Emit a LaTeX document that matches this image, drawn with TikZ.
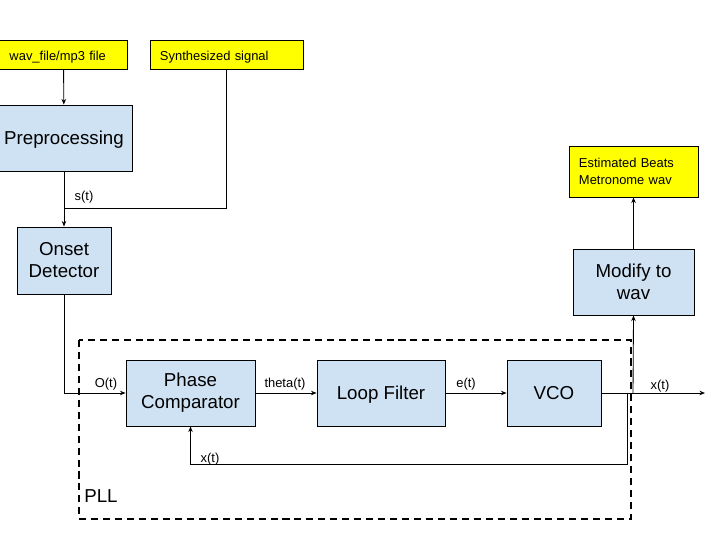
\documentclass[tikz,border=0pt]{standalone}
\usepackage{fontspec}
\setmainfont{Liberation Sans}
\usepackage{xcolor}
\usetikzlibrary{arrows.meta}
\definecolor{blkblue}{HTML}{CFE2F3}
\definecolor{iobox}{HTML}{FFFF00}
\begin{document}
\begin{tikzpicture}[x=0.025cm,y=-0.025cm,line width=0.6pt,
		>={Stealth[length=4pt,width=3.2pt]},
		blk/.style={draw,fill=blkblue,align=center,font=\fontsize{13.3}{15.6}\selectfont,minimum height=1.65cm},
		io/.style={draw,fill=iobox,align=left,font=\fontsize{9.2}{12}\selectfont,inner xsep=0.25cm},
		lbl/.style={font=\fontsize{9.2}{11}\selectfont,inner sep=1pt},
		pll/.style={line width=1.3pt,dash pattern=on 5pt off 3.5pt}]
			\useasboundingbox (0,0) rectangle (720,540);
			\node[io,text width=2.7cm,minimum height=0.725cm,text height=1.9ex,text depth=0.2ex] (wav) at (63.5,54.5) {wav\_file/mp3 file};
			\node[io,text width=3.325cm,minimum height=0.725cm,text height=1.9ex,text depth=0.2ex] (syn) at (226.5,54.5) {Synthesized signal};
			\node[blk,minimum width=3.4cm,text height=2ex,text depth=0.2ex] (pre) at (64,138) {Preprocessing};
			\node[blk,minimum width=2.35cm,minimum height=1.675cm] (ons) at (64,260.5) {Onset\\Detector};
			\node[blk,minimum width=3.225cm] (pc) at (190.5,393) {Phase\\Comparator};
			\node[blk,minimum width=3.2cm,text height=2ex,text depth=0.2ex] (lf) at (381,393) {Loop Filter};
			\node[blk,minimum width=2.35cm,text height=2ex,text depth=0.2ex] (vco) at (554,393) {VCO};
			\node[blk,minimum width=3.025cm] (mod) at (633.5,282) {Modify to\\wav};
			\node[io,text width=2.725cm,minimum height=1.275cm] (est) at (633.5,171.5) {Estimated Beats\\Metronome wav};
			\coordinate (jn) at (64,208);
			\coordinate (fb) at (627,393);
			\coordinate (fbl) at (627,464);
			\coordinate (mt) at (633,393);
			\coordinate (xout) at (705,393);
			\draw[->] (wav) -- (pre);
			\draw[->] (pre) -- (ons);
			\draw (syn.south) |- (jn);
			\draw[->] (ons.south) |- (pc.west);
			\draw[->] (pc) -- (lf);
			\draw[->] (lf) -- (vco);
			\draw[->] (vco.east) -- (xout);
			\draw[->] (fb) -- (fbl) -| (pc.south);
			\draw[->] (mt) -- (mod.south);
			\draw[->] (mod) -- (est);
			\draw[pll] (79,340) rectangle (631,519);
			\node[lbl] (st) at (84,197) {s(t)};
			\node[lbl] (ot) at (106,384) {O(t)};
			\node[lbl] (tt) at (285,384) {theta(t)};
			\node[lbl] (et) at (466,384) {e(t)};
			\node[lbl] (xo) at (660,386) {x(t)};
			\node[lbl] (xf) at (210,459) {x(t)};
			\node[font=\fontsize{13.3}{15.6}\selectfont] (pl) at (101,496) {PLL};
		\end{tikzpicture}
\end{document}
